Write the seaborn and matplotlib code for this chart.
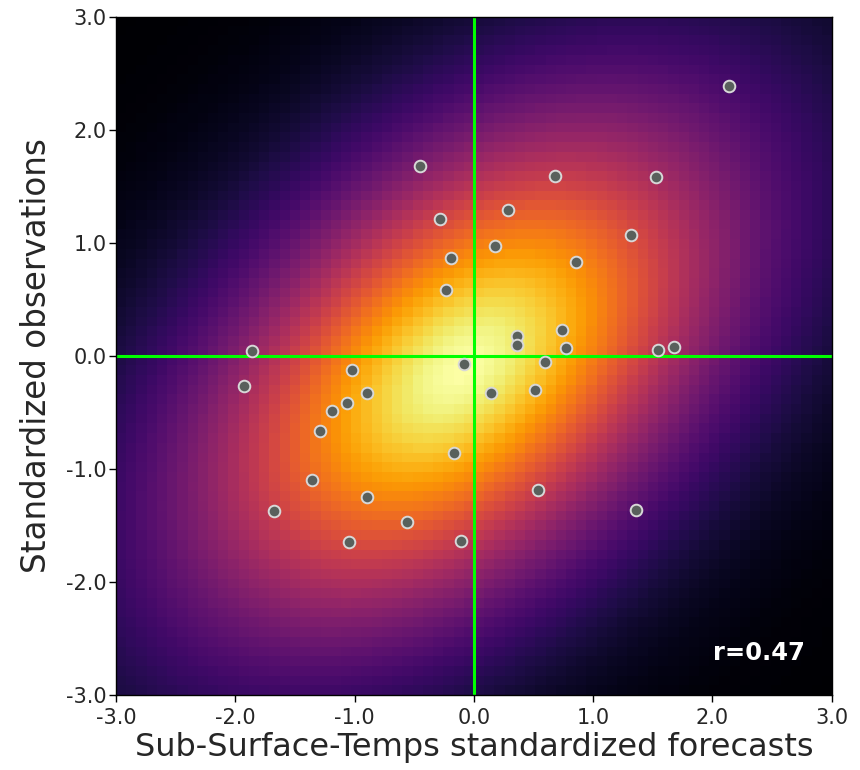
import numpy as np
import pandas as pd
import matplotlib
matplotlib.use("Agg")
import matplotlib.pyplot as plt
from matplotlib.ticker import FormatStrFormatter
import seaborn as sns

# ---- data ----
forecasts = [2.14, -0.45, 0.68, 1.53, -0.28, 0.29, 0.18, 1.32, -0.19, 0.86,
             -0.23, -1.86, 0.36, 0.36, 0.74, 0.77, 1.54, 1.68, -0.08, 0.60,
             0.14, 0.51, -1.93, -1.02, -0.90, -1.06, -1.19, -1.29, -0.17, -1.36,
             -0.90, 0.54, -1.68, -0.56, 1.36, -1.05, -0.11]
observations = [2.39, 1.68, 1.59, 1.58, 1.21, 1.29, 0.97, 1.07, 0.87, 0.83,
                0.58, 0.04, 0.18, 0.10, 0.23, 0.07, 0.05, 0.08, -0.07, -0.05,
                -0.33, -0.30, -0.27, -0.12, -0.33, -0.42, -0.49, -0.66, -0.86, -1.10,
                -1.25, -1.19, -1.37, -1.47, -1.36, -1.65, -1.64]
r_value = 0.47
tick_values = [-3.0, -2.0, -1.0, 0.0, 1.0, 2.0, 3.0]
x_label = "Sub-Surface-Temps standardized forecasts"
y_label = "Standardized observations"

df = pd.DataFrame({"forecast": forecasts, "observation": observations})

# ---- background bivariate density surface ----
n = 70
g = np.linspace(-3, 3, n)
X, Y = np.meshgrid(g, g)
u, v = X + 0.1, Y + 0.12
Q = (u**2 + v**2 - 2 * r_value * u * v) / (1 - r_value**2)
Z = np.exp(-0.24 * Q**0.9)

sns.set_style("ticks")
plt.rcParams["font.family"] = ["DejaVu Sans"]
plt.rcParams["axes.unicode_minus"] = False

fig = plt.figure(figsize=(8.6, 7.7), dpi=100)
ax = fig.add_axes([0.135, 0.0974, 0.832, 0.8806])

ax.imshow(Z, extent=(-3, 3, -3, 3), origin="lower", cmap="inferno",
          vmin=0, vmax=1, aspect="auto", interpolation="nearest", zorder=0)

ax.axvline(0, color="#00ff00", lw=2.2, zorder=2)
ax.axhline(0, color="#00ff00", lw=2.2, zorder=2)

sns.scatterplot(data=df, x="forecast", y="observation", ax=ax,
                color="#59605c", edgecolor="#d8d8d8", linewidth=1.4,
                s=70, zorder=3)

ax.text(0.962, 0.062, f"r={r_value:.2f}", transform=ax.transAxes,
        ha="right", va="center", color="white", fontsize=17.5,
        fontweight="bold", zorder=4)

ax.set_xlim(-3, 3)
ax.set_ylim(-3, 3)
ax.set_xticks(tick_values)
ax.set_yticks(tick_values)
ax.xaxis.set_major_formatter(FormatStrFormatter("%.1f"))
ax.yaxis.set_major_formatter(FormatStrFormatter("%.1f"))
ax.tick_params(labelsize=15, length=5, width=1, color="black")
ax.tick_params(axis="x", pad=4)
ax.tick_params(axis="y", pad=2)
ax.set_xlabel(x_label, fontsize=23, labelpad=3)
ax.set_ylabel(y_label, fontsize=23.5, labelpad=9)
for sp in ax.spines.values():
    sp.set_color("black")
    sp.set_linewidth(1)

fig.savefig("out.png", dpi=100)
